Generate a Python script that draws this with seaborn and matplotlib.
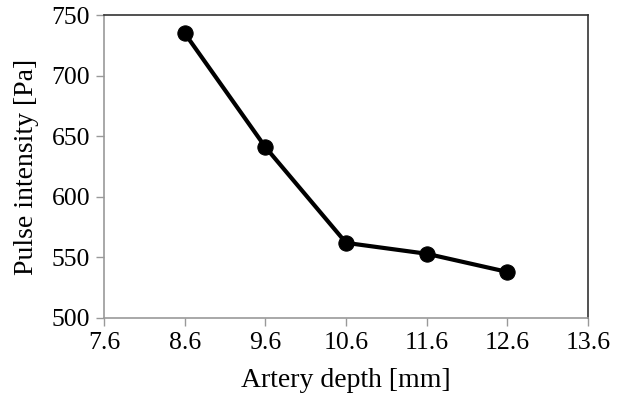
import matplotlib
matplotlib.use("Agg")
import matplotlib.pyplot as plt
import seaborn as sns
import pandas as pd

depth = [8.6, 9.6, 10.6, 11.6, 12.6]
intensity = [735, 641, 562, 553, 538]
x_ticks = [7.6, 8.6, 9.6, 10.6, 11.6, 12.6, 13.6]
y_ticks = [500, 550, 600, 650, 700, 750]

sns.set_theme(style="white")
plt.rcParams['font.family'] = ['Liberation Serif', 'DejaVu Serif']

df = pd.DataFrame({"depth": depth, "intensity": intensity})

fig = plt.figure(figsize=(6.23, 3.96), dpi=100)
ax = fig.add_axes([0.167, 0.197, 0.777, 0.765])
sns.lineplot(data=df, x="depth", y="intensity", ax=ax, color="black",
             linewidth=3, marker="o", markersize=11, markeredgecolor="black")

ax.set_xlim(7.6, 13.6)
ax.set_ylim(500, 750)
ax.set_xticks(x_ticks)
ax.set_xticklabels([f"{t:.1f}" for t in x_ticks])
ax.set_yticks(y_ticks)
ax.set_yticklabels([str(t) for t in y_ticks])
ax.tick_params(axis="both", which="major", labelsize=18.5, length=6, width=1,
               color="#999999", direction="out", pad=4, labelcolor="black")
ax.tick_params(bottom=True, left=True)

for s in ["left", "bottom"]:
    ax.spines[s].set_color("#999999")
    ax.spines[s].set_linewidth(1.2)
for s in ["top", "right"]:
    ax.spines[s].set_color("#333333")
    ax.spines[s].set_linewidth(1.2)

ax.set_xlabel("Artery depth [mm]", fontsize=20, color="black", labelpad=10)
ax.set_ylabel("Pulse intensity [Pa]", fontsize=20, color="black", labelpad=9)

fig.savefig("out.png", dpi=100)
